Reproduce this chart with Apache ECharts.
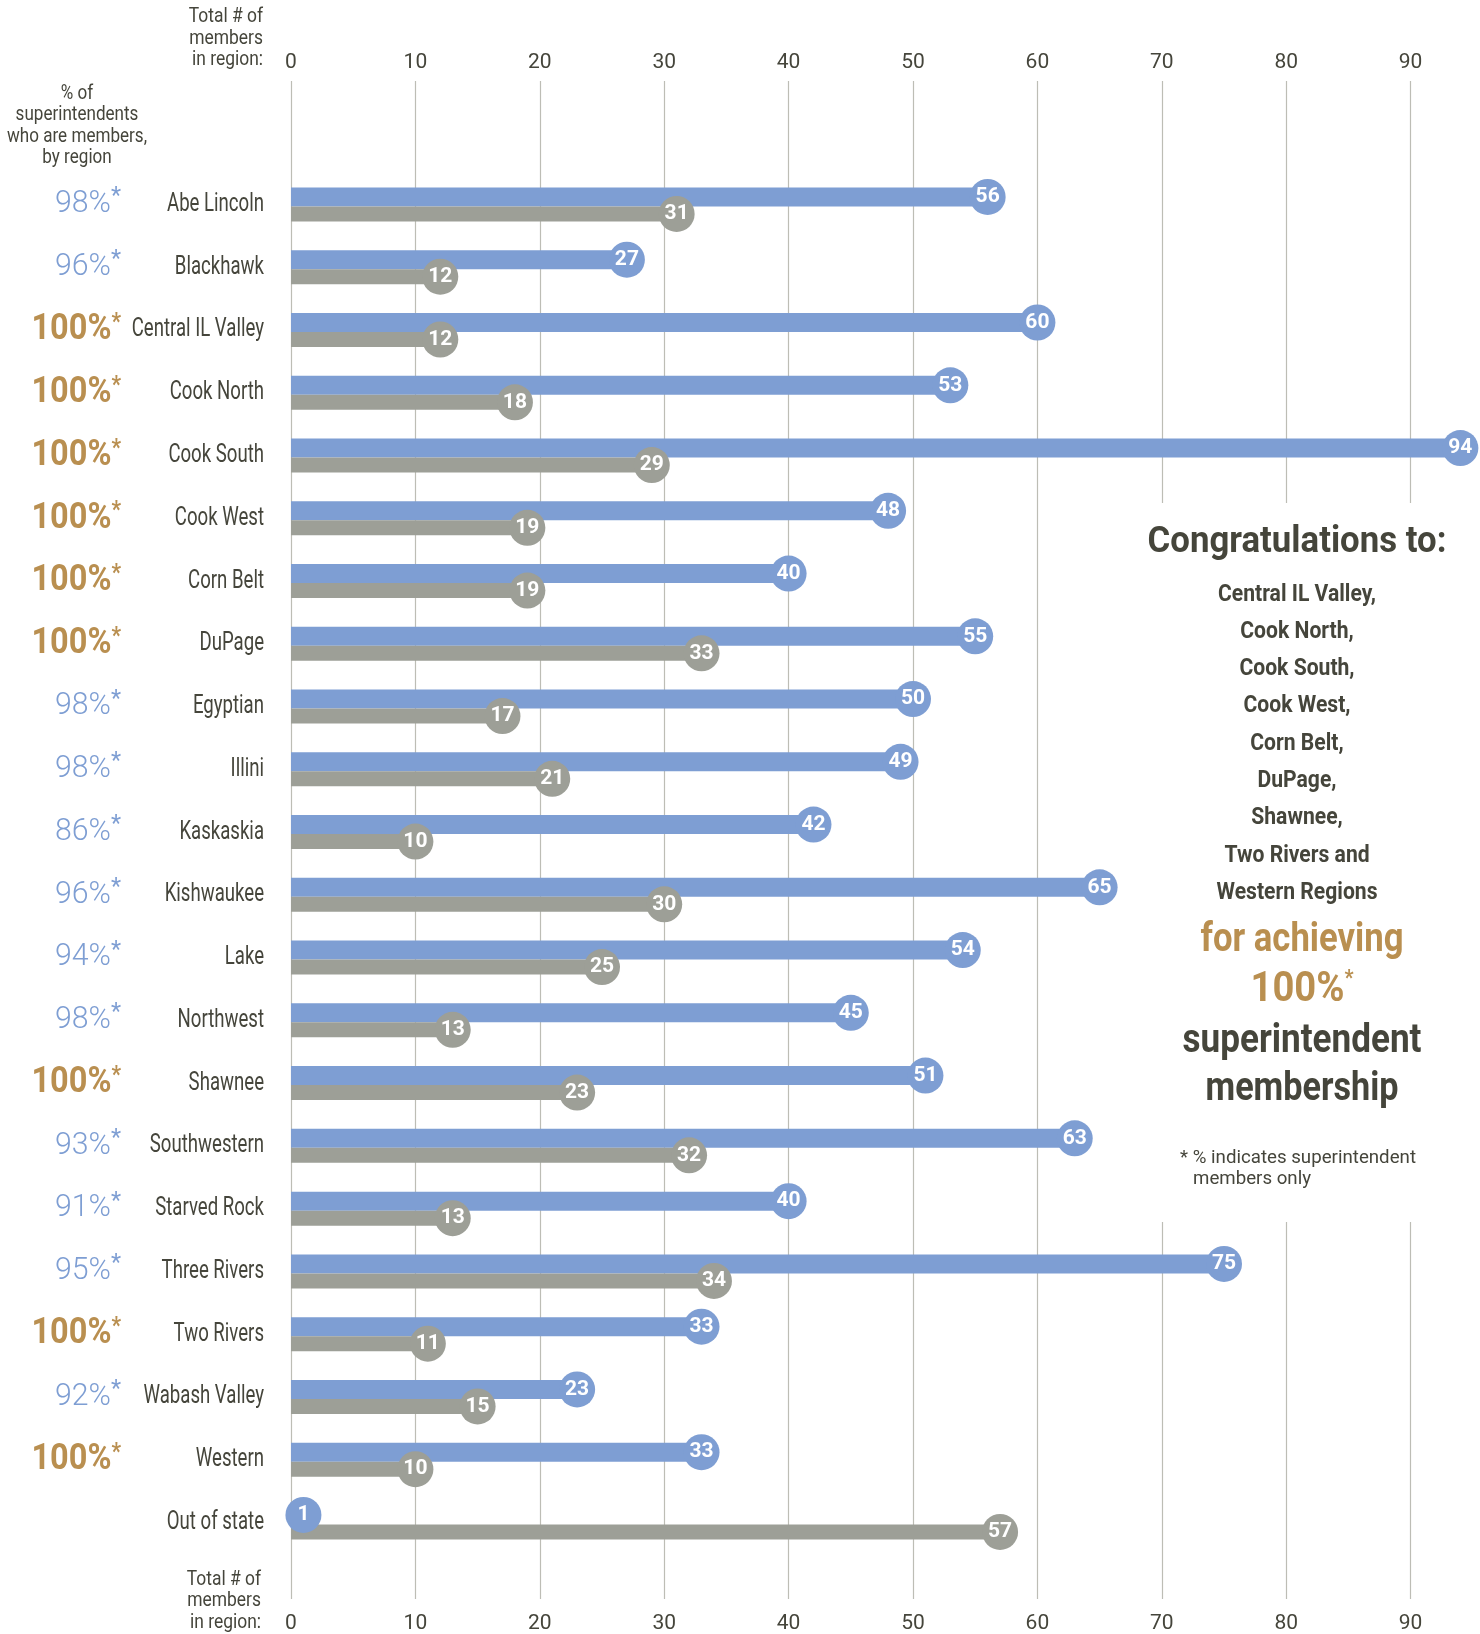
<!DOCTYPE html>
<html><head><meta charset="utf-8">
<script src="https://cdn.jsdelivr.net/npm/echarts@6/dist/echarts.min.js"></script>
<style>html,body{margin:0;padding:0;background:#fff}#c{width:1480px;height:1634px}</style>
</head><body><div id="c"></div>
<script>
// ---- data ----
const regions = ['Abe Lincoln','Blackhawk','Central IL Valley','Cook North','Cook South','Cook West','Corn Belt','DuPage','Egyptian','Illini','Kaskaskia','Kishwaukee','Lake','Northwest','Shawnee','Southwestern','Starved Rock','Three Rivers','Two Rivers','Wabash Valley','Western','Out of state'];
const totalMembers = [56,27,60,53,94,48,40,55,50,49,42,65,54,45,51,63,40,75,33,23,33,1];
const superintendentMembers = [31,12,12,18,29,19,19,33,17,21,10,30,25,13,23,32,13,34,11,15,10,57];
const pctSuperintendents = [98,96,100,100,100,100,100,100,98,98,86,96,94,98,100,93,91,95,100,92,100,null];
const xTicks = [0,10,20,30,40,50,60,70,80,90];
const congratsList = ['Central IL Valley,','Cook North,','Cook South,','Cook West,','Corn Belt,','DuPage,','Shawnee,','Two Rivers and','Western Regions'];

// ---- style ----
const FF = 'Roboto, "Noto Sans", sans-serif';
const BLUE = '#7e9ed3', GRAY = '#9d9f97', GOLD = '#b98f50', DARK = '#45453b', GRID = '#bdbdb5';
const L = 291, R = 69.4;

const mctx = document.createElement('canvas').getContext('2d');
function tw(text, font) { mctx.font = font + ' ' + FF; return mctx.measureText(text).width; }
function fit(text, font, w) { return w / tw(text, font); }

const chart = echarts.init(document.getElementById('c'), null, {renderer: 'canvas'});

function circleSeries(vals, color, dy) {
  return {
    type: 'scatter', xAxisIndex: 2, yAxisIndex: 1, z: 5, clip: false,
    symbol: 'circle', symbolSize: 36, symbolOffset: [0, dy],
    itemStyle: {color: color, opacity: 1},
    data: vals.map((v, i) => [v, i]),
    label: {show: true, position: 'inside',
      formatter: p => p.value[0], color: '#fff', fontFamily: FF, fontWeight: 'bold', fontSize: 21},
    emphasis: {disabled: true}, silent: true
  };
}

chart.setOption({
  animation: false,
  backgroundColor: '#fff',
  grid: [
    {left: L, right: R, top: 81, bottom: 34},
    {left: L, right: R, top: 173.1, bottom: 80.2}
  ],
  xAxis: [
    {gridIndex: 0, type: 'value', min: 0, max: 90, interval: 10, position: 'top',
      axisLine: {show: false}, axisTick: {show: false},
      splitLine: {show: true, lineStyle: {color: GRID, width: 1.2}},
      axisLabel: {margin: 8, color: DARK, fontFamily: FF, fontSize: 21}},
    {gridIndex: 0, type: 'value', min: 0, max: 90, interval: 10, position: 'bottom',
      axisLine: {show: false}, axisTick: {show: false}, splitLine: {show: false},
      axisLabel: {margin: 14, color: DARK, fontFamily: FF, fontSize: 21}},
    {gridIndex: 1, type: 'value', min: 0, max: 90, interval: 10, show: false}
  ],
  yAxis: [
    {gridIndex: 0, type: 'value', show: false},
    {gridIndex: 1, type: 'category', data: regions, inverse: true, show: false}
  ],
  series: [
    {type: 'bar', name: 'Total', xAxisIndex: 2, yAxisIndex: 1, data: totalMembers,
      barWidth: 19, barGap: 0, clip: false, itemStyle: {color: BLUE}, silent: true, z: 2},
    {type: 'bar', name: 'Superintendents', xAxisIndex: 2, yAxisIndex: 1, data: superintendentMembers,
      barWidth: 15, barGap: 0, clip: false, itemStyle: {color: GRAY}, silent: true, z: 2},
    circleSeries(superintendentMembers, GRAY, 9.5),
    circleSeries(totalMembers, BLUE, -7.5)
  ]
});

// ---- text layer (positions of row labels come from the category axis) ----
const g = [];
g.push({type: 'rect', z: 1, silent: true, shape: {x: 1138, y: 503, width: 342, height: 719}, style: {fill: '#fff'}});

const catFont = '26px';
const catScale = fit('Abe Lincoln', catFont, 97);
const gScale = fit('100%', 'bold 37px', 80);
const bScale = fit('98%', '300 31px', 56);
regions.forEach((name, i) => {
  const y = chart.convertToPixel({yAxisIndex: 1}, i);
  g.push({type: 'text', x: 264, y: y, scaleX: catScale, z: 3,
    style: {text: name, align: 'right', verticalAlign: 'middle', font: catFont + ' ' + FF, fill: DARK}});
  const p = pctSuperintendents[i];
  if (p != null) {
    const gold = p === 100;
    g.push({type: 'text', x: 121, y: y, scaleX: gold ? gScale : bScale, z: 3,
      style: {text: (gold ? '{m|' : '{n|') + p + '%}{s|*}', align: 'right', verticalAlign: 'middle',
        rich: {
          m: {font: 'bold 37px ' + FF, fill: GOLD, lineHeight: 38},
          n: {font: '300 31px ' + FF, fill: BLUE, lineHeight: 38},
          s: {font: (gold ? 'bold ' : '') + '24px ' + FF, fill: gold ? GOLD : BLUE, verticalAlign: 'top', lineHeight: 38}
        }}});
  }
});

const hdrScale = fit('in region:', '20px', 71);
g.push({type: 'text', x: 263, y: 38.5, scaleX: hdrScale, style: {text: 'Total # of\nmembers\nin region:', align: 'right', verticalAlign: 'middle',
  lineHeight: 21.5, font: '20px ' + FF, fill: DARK}});
g.push({type: 'text', x: 261, y: 1601, scaleX: hdrScale, style: {text: 'Total # of\nmembers\nin region:', align: 'right', verticalAlign: 'middle',
  lineHeight: 21.5, font: '20px ' + FF, fill: DARK}});
g.push({type: 'text', x: 77, y: 126, scaleX: fit('who are members,', '20px', 140), style: {text: '% of\nsuperintendents\nwho are members,\nby region',
  align: 'center', verticalAlign: 'middle', lineHeight: 21.5, font: '20px ' + FF, fill: DARK}});

function ctext(text, x, y, font, w, fill) {
  g.push({type: 'text', x: x, y: y, z: 3, scaleX: fit(text, font, w),
    style: {text: text, align: 'center', verticalAlign: 'middle', font: font + ' ' + FF, fill: fill}});
}
ctext('Congratulations to:', 1297, 543, 'bold 36px', 299, DARK);
const listScale = fit('Central IL Valley,', 'bold 23px', 158);
g.push({type: 'text', x: 1297, y: 744, z: 3, scaleX: listScale, style: {text: congratsList.join('\n'), align: 'center', verticalAlign: 'middle',
  lineHeight: 37.3, font: 'bold 23px ' + FF, fill: DARK}});
ctext('for achieving', 1302, 941, 'bold 40px', 203, GOLD);
g.push({type: 'text', x: 1302, y: 990, z: 3, scaleX: fit('100%', 'bold 42px', 94),
  style: {text: '{a|100%}{s|*}', align: 'center', verticalAlign: 'middle',
    rich: {a: {font: 'bold 42px ' + FF, fill: GOLD, lineHeight: 44},
           s: {font: 'bold 22px ' + FF, fill: GOLD, verticalAlign: 'top', lineHeight: 44}}}});
ctext('superintendent', 1302, 1042, 'bold 40px', 239, DARK);
ctext('membership', 1302, 1090, 'bold 40px', 193, DARK);
const fnScale = fit('* % indicates superintendent', '18px', 236);
g.push({type: 'text', x: 1180, y: 1158, z: 3, scaleX: fnScale, style: {text: '* % indicates superintendent', align: 'left', verticalAlign: 'middle',
  font: '18px ' + FF, fill: DARK}});
g.push({type: 'text', x: 1193, y: 1179, z: 3, scaleX: fnScale, style: {text: 'members only', align: 'left', verticalAlign: 'middle',
  font: '18px ' + FF, fill: DARK}});

chart.setOption({graphic: g});
</script>
</body></html>
